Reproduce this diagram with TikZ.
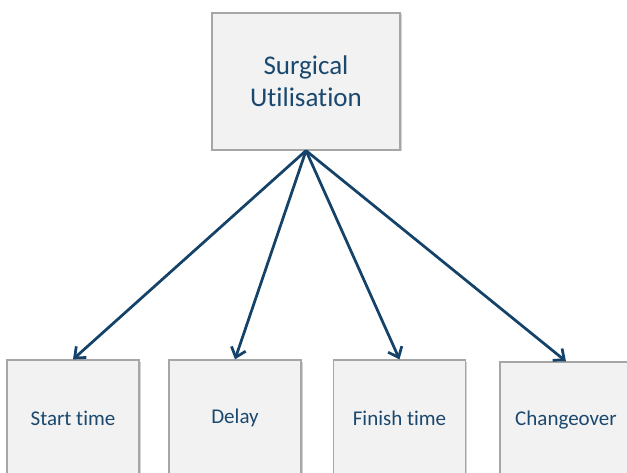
\documentclass[tikz,border=0pt]{standalone}
\usepackage{fontspec}
\setmainfont[Ligatures=NoCommon]{Carlito}
\usetikzlibrary{shadows}
\usetikzlibrary{arrows.meta}
\definecolor{textblue}{RGB}{26,72,110}
\definecolor{arrowblue}{RGB}{20,66,104}
\definecolor{boxfill}{RGB}{242,242,242}
\definecolor{boxline}{RGB}{166,166,166}

\begin{document}
\begin{tikzpicture}
[every node/.style={inner sep=0pt},
 box/.style={rectangle, fill=boxfill, draw=boxline, line width=1.25pt, text=textblue, align=center,
   drop shadow={shadow xshift=1.5pt, shadow yshift=-1.5pt, opacity=0.35}},
 link/.style={line width=2.75pt, color=arrowblue, -{Straight Barb[length=9pt, width=15pt, line width=2.75pt]}}]
\clip (0pt, 0pt) rectangle (627pt, -473pt);
\node (util) [box, minimum width=188pt, minimum height=137pt, font=\fontsize{27}{32}\selectfont] at (306.0pt, -81.5pt) {Surgical\\Utilisation};
\node (start) [box, minimum width=132pt, minimum height=116pt, font=\fontsize{21}{25}\selectfont] at (73.0pt, -418.0pt) {Start time};
\node (delay) [box, minimum width=132pt, minimum height=116pt, font=\fontsize{21}{25}\selectfont] at (235.0pt, -418.0pt) {Delay};
\node (finish) [box, minimum width=132pt, minimum height=116pt, font=\fontsize{21}{25}\selectfont] at (399.5pt, -418.0pt) {Finish time};
\node (change) [box, minimum width=132pt, minimum height=116pt, font=\fontsize{21}{25}\selectfont] at (566.0pt, -420.0pt) {Changeover};
\draw [link] (util.south) to (start.north);
\draw [link] (util.south) to (delay.north);
\draw [link] (util.south) to (finish.north);
\draw [link] (util.south) to (change.north);

\end{tikzpicture}
\end{document}
